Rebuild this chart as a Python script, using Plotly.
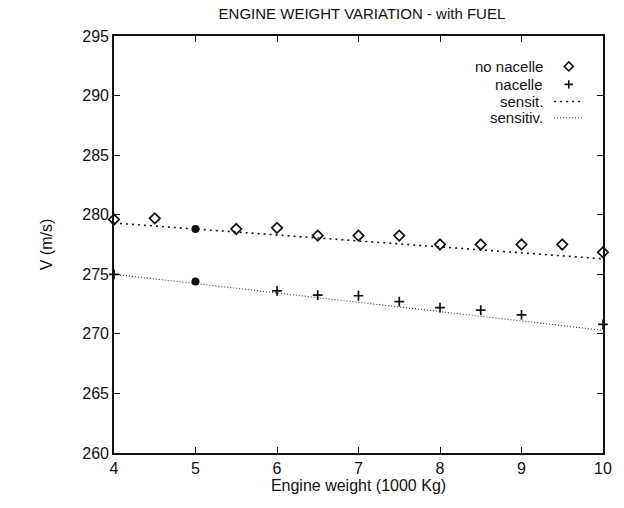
import plotly.graph_objects as go

# Engine weight (1000 kg) and flight speed V (m/s)
weight_no_nacelle = [4, 4.5, 5.5, 6, 6.5, 7, 7.5, 8, 8.5, 9, 9.5, 10]
v_no_nacelle = [279.6, 279.7, 278.8, 278.9, 278.25, 278.25, 278.25, 277.5, 277.5, 277.5, 277.5, 276.85]

weight_nacelle = [4, 6, 6.5, 7, 7.5, 8, 8.5, 9, 10]
v_nacelle = [275.0, 273.6, 273.25, 273.2, 272.7, 272.2, 272.0, 271.6, 270.8]

# Reference (baseline) design points
weight_ref = [5, 5]
v_ref = [278.8, 274.4]

# Sensitivity estimates
weight_sens = [4, 10]
v_sensit = [279.3, 276.3]
v_sensitiv = [275.0, 270.3]

legend_labels = ["no nacelle", "nacelle", "sensit.", "sensitiv."]

FONT = "Liberation Sans, Arial, Helvetica, sans-serif"
INK = "#111111"

fig = go.Figure()

fig.add_trace(go.Scatter(x=weight_sens, y=v_sensit, mode="lines",
                         line=dict(color=INK, width=1.6, dash="2px,4px"),
                         showlegend=False))
fig.add_trace(go.Scatter(x=weight_sens, y=v_sensitiv, mode="lines",
                         line=dict(color="#333333", width=1.1, dash="1px,2px"),
                         showlegend=False))
fig.add_trace(go.Scatter(x=weight_no_nacelle, y=v_no_nacelle, mode="markers",
                         marker=dict(symbol="diamond-open", size=8, color=INK,
                                     line=dict(width=1.7, color=INK)),
                         cliponaxis=False, showlegend=False))
fig.add_trace(go.Scatter(x=weight_nacelle, y=v_nacelle, mode="markers",
                         marker=dict(symbol="cross-thin", size=7, color=INK,
                                     line=dict(width=1.7, color=INK)),
                         cliponaxis=False, showlegend=False))
fig.add_trace(go.Scatter(x=weight_ref, y=v_ref, mode="markers",
                         marker=dict(symbol="circle", size=8, color=INK),
                         cliponaxis=False, showlegend=False))

# Key in the upper right corner: text right-aligned, sample to its right
key_y = [0.927, 0.884, 0.843, 0.804]
key_text_x = 0.882
sample_x0, sample_x1 = 0.9, 0.96
for label, ky in zip(legend_labels, key_y):
    fig.add_annotation(x=key_text_x, y=ky, xref="x domain", yref="y domain",
                       text=label, showarrow=False, xanchor="right", yanchor="middle",
                       font=dict(family=FONT, size=15, color=INK))

fig.add_trace(go.Scatter(x=[(sample_x0 + sample_x1) / 2], y=[key_y[0]], xaxis="x2", yaxis="y2",
                         mode="markers", showlegend=False, hoverinfo="skip",
                         marker=dict(symbol="diamond-open", size=7, color=INK,
                                     line=dict(width=1.6, color=INK))))
fig.add_trace(go.Scatter(x=[(sample_x0 + sample_x1) / 2], y=[key_y[1]], xaxis="x2", yaxis="y2",
                         mode="markers", showlegend=False, hoverinfo="skip",
                         marker=dict(symbol="cross-thin", size=6, color=INK,
                                     line=dict(width=1.6, color=INK))))
fig.add_trace(go.Scatter(x=[sample_x0, sample_x1], y=[key_y[2]] * 2, xaxis="x2", yaxis="y2",
                         mode="lines", showlegend=False, hoverinfo="skip",
                         line=dict(color=INK, width=1.6, dash="2px,4px")))
fig.add_trace(go.Scatter(x=[sample_x0, sample_x1], y=[key_y[3]] * 2, xaxis="x2", yaxis="y2",
                         mode="lines", showlegend=False, hoverinfo="skip",
                         line=dict(color="#333333", width=1.1, dash="1px,2px")))

fig.update_layout(
    width=624, height=508,
    margin=dict(l=114, r=14, t=36, b=55),
    paper_bgcolor="white", plot_bgcolor="white",
    font=dict(family=FONT, size=16, color=INK),
    title=dict(text="ENGINE WEIGHT VARIATION - with FUEL", x=0.58, xanchor="center",
               y=0.972, yanchor="middle", font=dict(family=FONT, size=15, color=INK)),
    xaxis=dict(range=[4, 10], dtick=1, tick0=4, ticks="inside", ticklen=6, tickwidth=1.2,
               tickcolor=INK, showline=True, linecolor=INK, linewidth=1.6, mirror="ticks",
               showgrid=False, zeroline=False, tickfont=dict(family=FONT, size=16, color=INK),
               title=dict(text="Engine weight (1000 Kg)", standoff=0,
                          font=dict(family=FONT, size=16, color=INK))),
    yaxis=dict(range=[260, 295], dtick=5, tick0=260, ticks="inside", ticklen=6, tickwidth=1.2,
               tickcolor=INK, showline=True, linecolor=INK, linewidth=1.6, mirror="ticks",
               showgrid=False, zeroline=False, tickfont=dict(family=FONT, size=16, color=INK),
               title=dict(text="V (m/s)", standoff=26,
                          font=dict(family=FONT, size=16, color=INK))),
    xaxis2=dict(overlaying="x", range=[0, 1], visible=False, fixedrange=True),
    yaxis2=dict(overlaying="y", range=[0, 1], visible=False, fixedrange=True),
)

fig.write_html("out.html")
